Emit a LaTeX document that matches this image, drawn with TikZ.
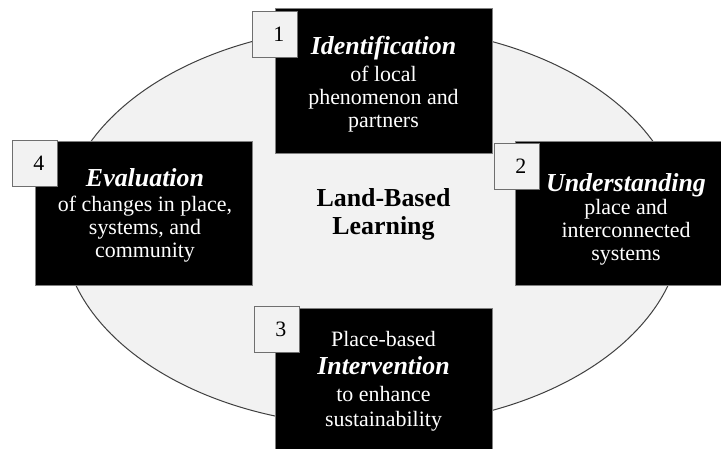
\documentclass[tikz,border=0pt]{standalone}
\usepackage{fontspec}
\setmainfont{Liberation Serif}
\usetikzlibrary{shapes.geometric}
\definecolor{ellfill}{HTML}{F2F2F2}
\definecolor{ellline}{HTML}{404040}
\definecolor{numline}{HTML}{6F6F6F}
\begin{document}
\begin{tikzpicture}[x=1bp,y=-1bp,
  ell/.style={ellipse, draw=ellline, fill=ellfill, line width=1bp, inner sep=0pt},
  blackbox/.style={rectangle, draw=gray, fill=black, line width=0.6bp, inner sep=0pt, anchor=north west},
  numbox/.style={rectangle, draw=numline, fill=ellfill, line width=0.8bp, inner sep=0pt,
     minimum width=45bp, minimum height=46bp, anchor=north west, font=\fontsize{22}{22}\selectfont},
  boxtext/.style={text=white, text width=215bp, align=flush center, inner sep=0pt, anchor=base,
     font=\fontsize{22}{23}\selectfont},
  ttl/.style={font=\fontsize{26}{26}\selectfont\bfseries\itshape}
]
\clip (0,0) rectangle (721,449);
\fill[white] (0,0) rectangle (721,449);
% ellipse
\node[ell, minimum width=620bp, minimum height=400bp] (land) at (372,226) {};
\node[font=\fontsize{26}{28}\selectfont\bfseries, align=flush center, text width=200bp, inner sep=0pt, anchor=base] (ctr) at (383.5,207) {Land-Based\\Learning};
% black boxes
\node[blackbox, minimum width=217bp, minimum height=145bp] (b1) at (275,8) {};
\node[blackbox, minimum width=230bp, minimum height=144bp] (b2) at (515,141) {};
\node[blackbox, minimum width=217bp, minimum height=160bp] (b3) at (275,308) {};
\node[blackbox, minimum width=217bp, minimum height=144bp] (b4) at (35,141) {};
% number boxes
\node[numbox] (n1) at (252,11) {\hspace*{8bp}1};
\node[numbox] (n2) at (494,143) {\hspace*{8bp}2};
\node[numbox] (n3) at (254,306) {\hspace*{8bp}3};
\node[numbox] (n4) at (12,140) {\hspace*{8bp}4};
% box texts
\node[boxtext] (t1) at (383.5,55) {{\fontsize{26}{26}\selectfont\bfseries\itshape Identification}\\[4bp] of local\\ phenomenon and\\ partners};
\node[boxtext] (t2) at (626,192) {{\fontsize{26}{26}\selectfont\bfseries\itshape Understanding}\\[0bp] place and\\ interconnected\\ systems};
\node[boxtext] (t3) at (383.5,347) {Place-based\\[5bp] {\fontsize{26}{26}\selectfont\bfseries\itshape Intervention}\\[4bp] to enhance\\[2bp] sustainability};
\node[boxtext] (t4) at (145,187) {{\fontsize{26}{26}\selectfont\bfseries\itshape Evaluation}\\[2bp] of changes in place,\\ systems, and\\ community};
\end{tikzpicture}
\end{document}
